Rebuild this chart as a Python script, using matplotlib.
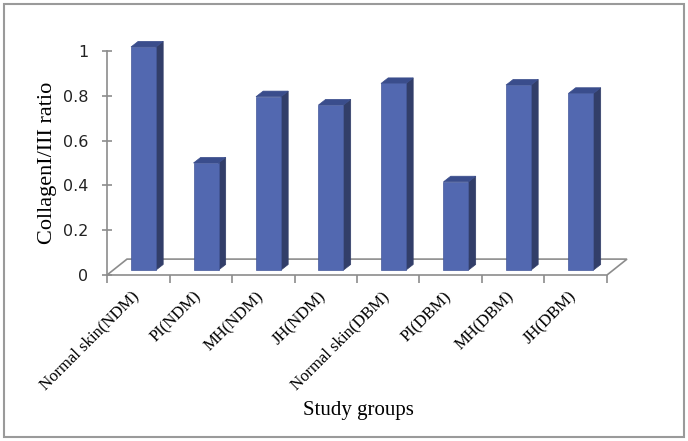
import numpy as np
import matplotlib.pyplot as plt
from matplotlib.patches import Polygon, Rectangle

groups = ['Normal skin(NDM)', 'PI(NDM)', 'MH(NDM)', 'JH(NDM)',
          'Normal skin(DBM)', 'PI(DBM)', 'MH(DBM)', 'JH(DBM)']
ratio = [0.996, 0.478, 0.774, 0.737, 0.833, 0.394, 0.826, 0.789]
yticks = [0, 0.2, 0.4, 0.6, 0.8, 1]
ytick_labels = ['0', '0.2', '0.4', '0.6', '0.8', '1']

# 3d look (data units)
floor_dx, floor_dy = 0.32, 0.071
bar_off_x, bar_off_y = 0.084, 0.022
depth_x, depth_y = 0.115, 0.025
width = 0.4

front_c = '#5268b0'
side_c = '#323e69'
top_c = '#3a4d8c'
grey = '#8c8c8c'

fig = plt.figure(figsize=(6.88, 4.41), dpi=100)
fig.patches.append(Rectangle((4 / 688, 4 / 441), 680 / 688, 433 / 441,
                             transform=fig.transFigure, fill=False,
                             edgecolor='#9a9a9a', lw=1.5))

ax = fig.add_axes([107 / 688, (441 - 275) / 441, 500 / 688, 224 / 441])
n = len(groups)
ax.set_xlim(-0.5, n - 0.5)
ax.set_ylim(0, 1)

# floor
floor = Polygon([(-0.5, 0), (n - 0.5, 0), (n - 0.5 + floor_dx, floor_dy),
                 (-0.5 + floor_dx, floor_dy)], closed=True, facecolor='white',
                edgecolor=grey, lw=1.2, clip_on=False, zorder=1)
ax.add_patch(floor)

x = np.arange(n)
for xi, v in zip(x, ratio):
    l = xi - width / 2 + bar_off_x
    r = l + width
    b = bar_off_y
    t = b + v
    ax.add_patch(Polygon([(r, b), (r + depth_x, b + depth_y),
                          (r + depth_x, t + depth_y), (r, t)],
                         facecolor=side_c, edgecolor=side_c, lw=0.5,
                         clip_on=False, zorder=2))
    ax.add_patch(Polygon([(l, t), (r, t), (r + depth_x, t + depth_y),
                          (l + depth_x, t + depth_y)],
                         facecolor=top_c, edgecolor=top_c, lw=0.5,
                         clip_on=False, zorder=2))
ax.bar(x + bar_off_x, ratio, width=width, bottom=bar_off_y, color=front_c,
       edgecolor='#44589a', lw=0.5, zorder=3, clip_on=False)

for s in ['top', 'right', 'bottom']:
    ax.spines[s].set_visible(False)
ax.spines['left'].set_color(grey)
ax.spines['left'].set_linewidth(1.2)

ax.set_yticks(yticks)
ax.set_yticklabels(ytick_labels, fontsize=11.5, family='DejaVu Sans',
                   color='#222222')
ax.tick_params(axis='y', length=7, direction='inout', color=grey, width=1.2,
               pad=10)

ax.set_xticks(np.arange(-0.5, n, 1.0))
ax.set_xticklabels([])
ax.tick_params(axis='x', length=6, color=grey, width=1.2)
for xi, g in zip(x, groups):
    ax.text(xi - 0.12, -0.06, g, rotation=45, ha='right', va='top',
            rotation_mode='anchor', fontsize=12, family='Liberation Serif')

ax.set_ylabel('CollagenI/III ratio', fontsize=16, family='Liberation Serif',
              labelpad=4)
fig.text(358 / 688, 1 - 410 / 441, 'Study groups', ha='center', va='center',
         fontsize=15, family='Liberation Serif')

fig.savefig('out.png', dpi=100)
